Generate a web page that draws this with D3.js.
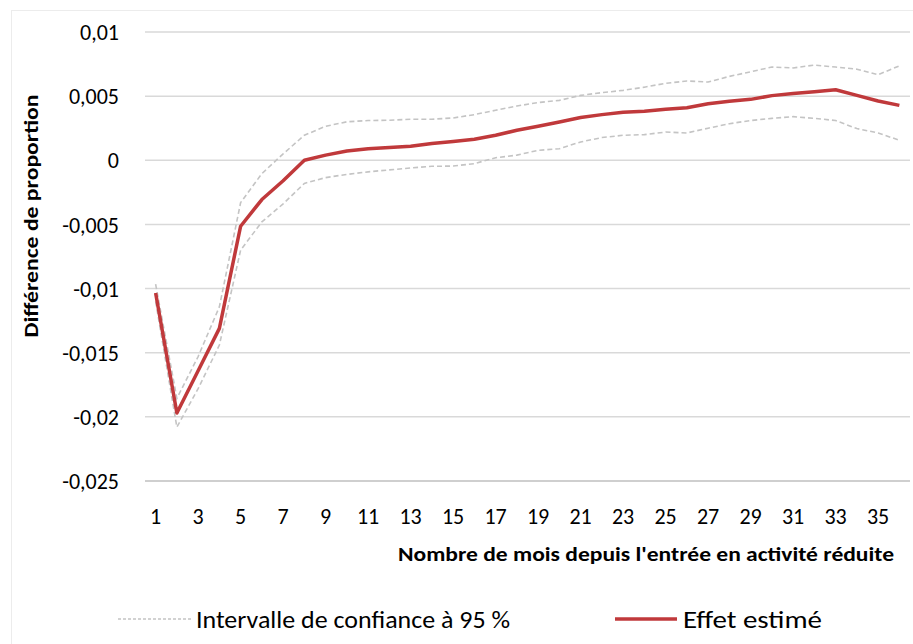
<!DOCTYPE html>
<html>
<head>
<meta charset="utf-8">
<script src="https://cdn.jsdelivr.net/npm/d3@7"></script>
<style>
  body { margin: 0; background: #fff; }
  svg text { font-family: Calibri, Carlito, Lato, sans-serif; fill: #000; }
</style>
</head>
<body>
<div id="chart"></div>
<script>
// mois depuis l'entrée
const months = d3.range(1, 37);
const effet = [-0.01035, -0.0197, -0.0164, -0.0131, -0.00514, -0.00306, -0.0016, 0.0, 0.0004, 0.00072,
  0.0009, 0.001, 0.0011, 0.0013, 0.00146, 0.00164, 0.00195, 0.00234, 0.00265, 0.00299,
  0.00333, 0.00356, 0.00374, 0.00382, 0.00397, 0.0041, 0.0044, 0.0046, 0.00475, 0.00504,
  0.0052, 0.00535, 0.0055, 0.00506, 0.00462, 0.00428];
const icHaut = [-0.00966, -0.01856, -0.0153, -0.01142, -0.0033, -0.00104, 0.0005, 0.00195, 0.00265, 0.003,
  0.0031, 0.00312, 0.0032, 0.0032, 0.0033, 0.00356, 0.0039, 0.00423, 0.0045, 0.00467,
  0.00506, 0.00527, 0.00545, 0.0057, 0.006, 0.00618, 0.0061, 0.00654, 0.0069, 0.00727,
  0.0072, 0.00742, 0.00727, 0.0071, 0.00667, 0.00736];
const icBas = [-0.011, -0.0208, -0.0178, -0.0144, -0.007, -0.0048, -0.0034, -0.0018, -0.00135, -0.0011,
  -0.0009, -0.00075, -0.0006, -0.00047, -0.00045, -0.00026, 0.0002, 0.0004, 0.00078, 0.0009,
  0.00143, 0.00177, 0.00195, 0.002, 0.0022, 0.00213, 0.0025, 0.00285, 0.0031, 0.00327,
  0.0034, 0.00327, 0.0031, 0.00247, 0.00213, 0.00156];
const yTicks = [0.01, 0.005, 0, -0.005, -0.01, -0.015, -0.02, -0.025];
const xTickLabels = months.filter(m => m % 2 === 1);

const width = 913, height = 644;
const svg = d3.select('#chart').append('svg')
  .attr('width', width).attr('height', height);

svg.append('rect')
  .attr('x', 11.5).attr('y', 10.5)
  .attr('width', 920).attr('height', 640)
  .attr('fill', 'none').attr('stroke', '#ececec');

const x = d3.scaleBand().domain(months).range([145, 910]);
const y = d3.scaleLinear().domain([-0.025, 0.01]).range([481, 32]);
const fmt = v => v === 0 ? '0' : String(v).replace('.', ',');

// grille
svg.append('g')
  .selectAll('line')
  .data(yTicks)
  .enter()
  .append('line')
  .attr('x1', 145).attr('x2', 910)
  .attr('y1', d => y(d)).attr('y2', d => y(d))
  .attr('stroke', d => d === -0.025 ? '#bfbfbf' : '#d9d9d9')
  .attr('stroke-width', 1.5);

const yAxis = svg.append('g')
  .attr('transform', 'translate(119,0)')
  .call(d3.axisLeft(y).tickValues(yTicks).tickFormat(fmt).tickSize(0).tickPadding(0));
yAxis.select('.domain').remove();
yAxis.selectAll('text')
  .style('font-size', '22px')
  .attr('dy', '0.35em');

const xAxis = svg.append('g')
  .attr('transform', 'translate(0,481)')
  .call(d3.axisBottom(x).tickValues(xTickLabels).tickSize(0).tickPadding(27));
xAxis.select('.domain').remove();
xAxis.selectAll('text').style('font-size', '22px');

svg.append('text')
  .attr('transform', 'translate(38,216) rotate(-90)')
  .attr('text-anchor', 'middle')
  .attr('textLength', 243).attr('lengthAdjust', 'spacingAndGlyphs')
  .style('font-size', '20px').style('font-weight', 'bold')
  .text('Différence de proportion');

svg.append('text')
  .attr('x', 894).attr('y', 561)
  .attr('text-anchor', 'end')
  .attr('textLength', 496).attr('lengthAdjust', 'spacingAndGlyphs')
  .style('font-size', '20px').style('font-weight', 'bold')
  .text("Nombre de mois depuis l'entrée en activité réduite");

const line = vals => d3.line()
  .x((d, i) => x(months[i]) + x.bandwidth() / 2)
  .y(d => y(d))(vals);

svg.append('path').attr('d', line(icHaut))
  .attr('fill', 'none').attr('stroke', '#c4c4c4')
  .attr('stroke-width', 1.6).attr('stroke-dasharray', '5,3');
svg.append('path').attr('d', line(icBas))
  .attr('fill', 'none').attr('stroke', '#c4c4c4')
  .attr('stroke-width', 1.6).attr('stroke-dasharray', '5,3');
svg.append('path').attr('d', line(effet))
  .attr('fill', 'none').attr('stroke', '#c0393b')
  .attr('stroke-width', 3.5).attr('stroke-linejoin', 'round');

// légende
const leg = svg.append('g');
leg.append('line').attr('x1', 118).attr('x2', 191).attr('y1', 619).attr('y2', 619)
  .attr('stroke', '#c4c4c4').attr('stroke-width', 1.6).attr('stroke-dasharray', '3,2');
leg.append('text').attr('x', 196).attr('y', 628)
  .attr('textLength', 314).attr('lengthAdjust', 'spacingAndGlyphs')
  .style('font-size', '25px').text('Intervalle de confiance à 95 %');
leg.append('line').attr('x1', 615).attr('x2', 677).attr('y1', 619).attr('y2', 619)
  .attr('stroke', '#c0393b').attr('stroke-width', 3.5);
leg.append('text').attr('x', 683).attr('y', 628)
  .attr('textLength', 139).attr('lengthAdjust', 'spacingAndGlyphs')
  .style('font-size', '25px').text('Effet estimé');
</script>
</body>
</html>
